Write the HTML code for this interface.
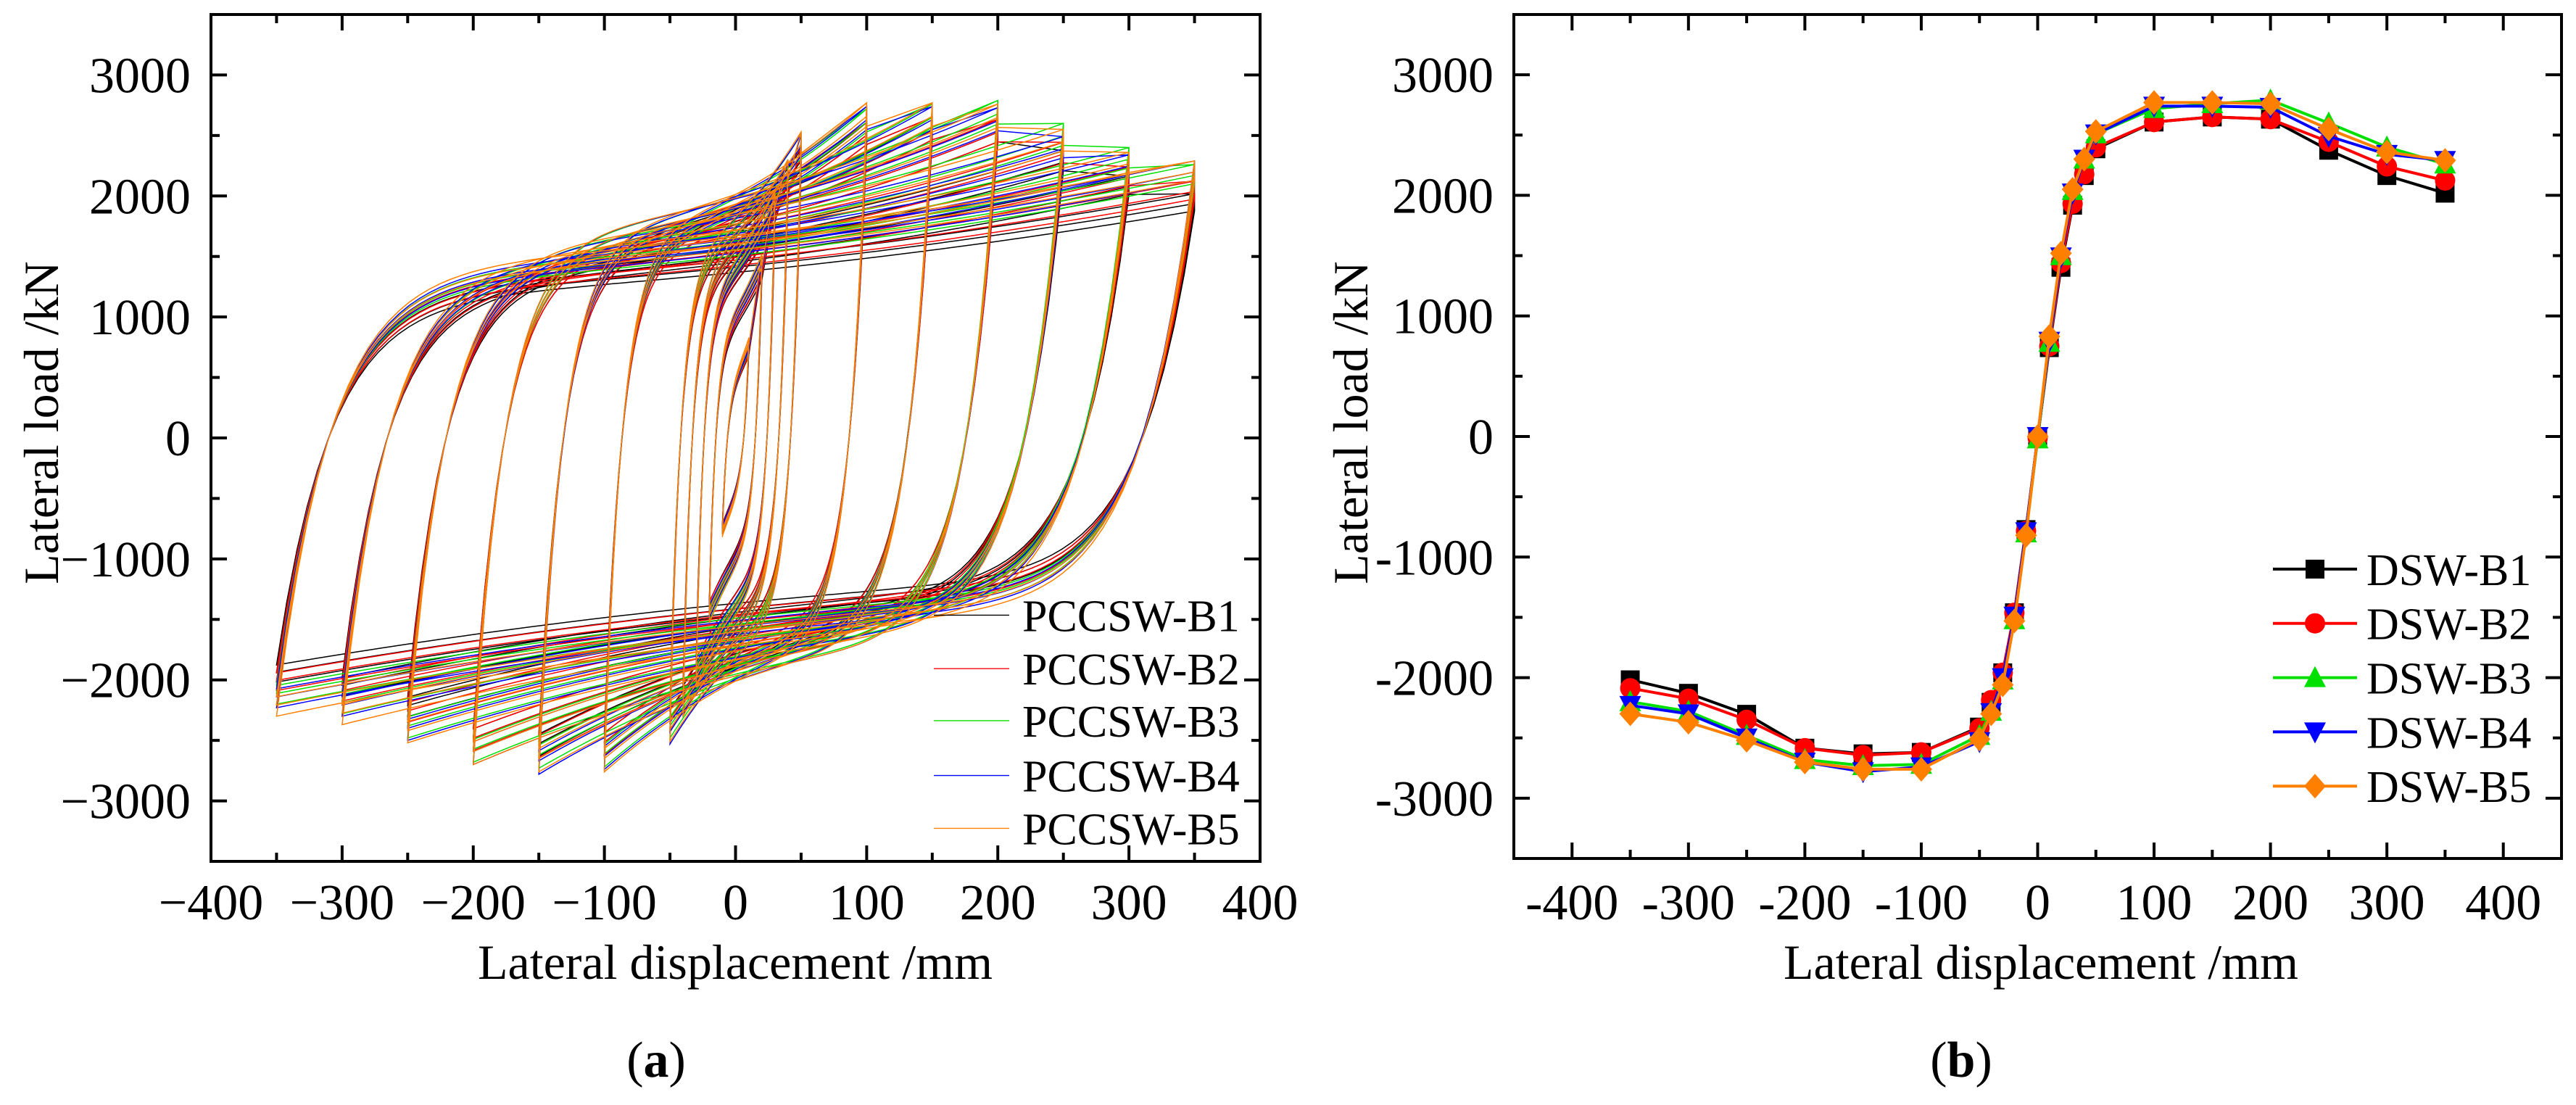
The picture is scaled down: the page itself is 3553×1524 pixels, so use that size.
<!DOCTYPE html>
<html><head><meta charset="utf-8">
<style>
html,body{margin:0;padding:0;background:#fff;}
svg{display:block;font-family:"Liberation Serif","DejaVu Serif",serif;}
</style></head>
<body>
<svg id="fig" width="3553" height="1524" viewBox="0 0 3553 1524" xmlns="http://www.w3.org/2000/svg">
<rect width="3553" height="1524" fill="#fff"/>
<g id="plotA"></g>
<g id="plotB"></g>
<text x="905" y="1485" font-size="70" text-anchor="middle">(<tspan font-weight="bold">a</tspan>)</text>
<text x="2705" y="1485" font-size="70" text-anchor="middle">(<tspan font-weight="bold">b</tspan>)</text>
</svg>
<script>
// ---------- data ----------
const dispPts = [-350,-300,-250,-200,-150,-100,-50,-40,-30,-20,-10,0,10,20,30,40,50,100,150,200,250,300,350];
const loadB1 = [-2018,-2130,-2304,-2585,-2632,-2620,-2410,-2205,-1960,-1462,-772,-10,737,1403,1918,2164,2386,2608,2650,2632,2374,2164,2018];
const loadB2 = [-2088,-2175,-2350,-2585,-2643,-2620,-2420,-2187,-1959,-1462,-784,-10,748,1439,1930,2175,2398,2608,2650,2632,2444,2240,2123];
const loadB3 = [-2200,-2280,-2480,-2680,-2730,-2720,-2480,-2280,-2020,-1520,-800,-20,780,1500,2040,2300,2510,2720,2760,2790,2600,2400,2260];
const loadB4 = [-2230,-2300,-2500,-2700,-2780,-2740,-2530,-2290,-2000,-1490,-790,0,790,1490,2020,2300,2510,2740,2740,2730,2490,2340,2290];
const loadB5 = [-2300,-2370,-2520,-2700,-2760,-2760,-2510,-2300,-2060,-1530,-820,0,830,1520,2050,2300,2530,2770,2770,2760,2550,2360,2290];
const seriesNames = ["DSW-B1","DSW-B2","DSW-B3","DSW-B4","DSW-B5"];
const hystNames = ["PCCSW-B1","PCCSW-B2","PCCSW-B3","PCCSW-B4","PCCSW-B5"];
const loopAmps = [10,20,30,40,50,100,150,200,250,300,350];
const plateauLoads = [1600,1750,1750,1720,1760];
const xTicksA = [-400,-300,-200,-100,0,100,200,300,400];
const yTicks = [-3000,-2000,-1000,0,1000,2000,3000];
const colors = ["#000000","#ff0000","#00e000","#0000ff","#ff8000"];
const allLoads = [loadB1,loadB2,loadB3,loadB4,loadB5];

const NS="http://www.w3.org/2000/svg";
function mk(tag, attrs, parent){const e=document.createElementNS(NS,tag);for(const k in attrs)e.setAttribute(k,attrs[k]);parent.appendChild(e);return e;}

function drawFrame(g, L,R,T,B, xmin,xmax, xTicks, xMinor, yMinor, minusChar, prefix){
  const xs=v=>L+(v-xmin)/(xmax-xmin)*(R-L);
  const ys=v=>T+(3500-v)/7000*(B-T);
  const frame=mk('rect',{x:L,y:T,width:R-L,height:B-T,fill:'none',stroke:'#000','stroke-width':4},g);
  
  
  const tg=mk('g',{stroke:'#000','stroke-width':4},g);
  
  
  xTicks.forEach(v=>{const x=xs(v);mk('line',{x1:x,y1:B,x2:x,y2:B-22},tg);mk('line',{x1:x,y1:T,x2:x,y2:T+22},tg);});
  xMinor.forEach(v=>{const x=xs(v);mk('line',{x1:x,y1:B,x2:x,y2:B-12},tg);mk('line',{x1:x,y1:T,x2:x,y2:T+12},tg);});
  yTicks.forEach(v=>{const y=ys(v);mk('line',{x1:L,y1:y,x2:L+22,y2:y},tg);mk('line',{x1:R,y1:y,x2:R-22,y2:y},tg);});
  yMinor.forEach(v=>{const y=ys(v);mk('line',{x1:L,y1:y,x2:L+12,y2:y},tg);mk('line',{x1:R,y1:y,x2:R-12,y2:y},tg);});
  xTicks.forEach(v=>{
    const t=mk('text',{x:xs(v),y:1268,'font-size':70,'text-anchor':'middle'},g);
    t.textContent=(v<0?minusChar:'')+Math.abs(v);
    
    
  });
  yTicks.forEach(v=>{
    const t=mk('text',{x:L-28,y:ys(v)+24,'font-size':70,'text-anchor':'end'},g);
    t.textContent=(v<0?minusChar:'')+Math.abs(v);
    
    
  });
  return {xs,ys};
}

// ---------- Panel A ----------
(function(){
  const g=document.getElementById('plotA');
  const L=291,R=1738,T=20,B=1188;
  const minorX=[-350,-250,-150,-50,50,150,250,350];
  const minorY=[-3500,-2500,-1500,-500,500,1500,2500,3500];
  const {xs,ys}=drawFrame(g,L,R,T,B,-400,400,xTicksA,minorX,minorY,'\u2212','a');
  const clip=mk('clipPath',{id:'clipA'},g);
  mk('rect',{x:L,y:T,width:R-L,height:B-T},clip);
  const cg=mk('g',{'clip-path':'url(#clipA)'},g);
  allLoads.forEach((loads,si)=>{
    const base=plateauLoads[si];
    let d='';
    loopAmps.forEach(A=>{
      const Pp=loads[dispPts.indexOf(A)];
      const Pn=loads[dispPts.indexOf(-A)];
      [1,0.96,0.93].forEach(f=>{
        const P=Pp*f, N=Pn*f;
        const bl=Math.min(base, 0.62*Math.min(P,-N));
        const w=0.11*A+3;
        const Gl=x=>-(bl+(-N-bl)*Math.pow((A-x)/(2*A),1.8));
        const Gu=x=>(bl+(P-bl)*Math.pow((x+A)/(2*A),1.8));
        const n=90;
        for(let i=0;i<=n;i++){
          const x=A-2*A*i/n;
          const F=Gl(x)+(P-Gl(A))*Math.exp(-(A-x)/w);
          d+=(i===0&&d===''?'M':'L')+xs(x).toFixed(1)+' '+ys(F).toFixed(1);
        }
        for(let i=0;i<=n;i++){
          const x=-A+2*A*i/n;
          const F=Gu(x)+(N-Gu(-A))*Math.exp(-(x+A)/w);
          d+='L'+xs(x).toFixed(1)+' '+ys(F).toFixed(1);
        }
      });
    });
    const p=mk('path',{d:d,fill:'none',stroke:colors[si],'stroke-width':1.5},cg);
    
    
  });
  const legY=[-1465,-1907,-2337,-2790,-3227];
  hystNames.forEach((nm,i)=>{
    const lg=mk('g',{},g);
    
    
    const y=ys(legY[i]);
    mk('line',{x1:1288,y1:y,x2:1392,y2:y,stroke:colors[i],'stroke-width':1.4},lg);
    const t=mk('text',{x:1410,y:y+22,'font-size':62},lg);
    t.textContent=nm;
  });
  const xt=mk('text',{x:1014,y:1350,'font-size':68,'text-anchor':'middle'},g);
  xt.textContent='Lateral displacement /mm';
  
  
  const yt=mk('text',{x:0,y:0,'font-size':68,'text-anchor':'middle',transform:'translate(80,583) rotate(-90)'},g);
  yt.textContent='Lateral load /kN';
  
  
})();

// ---------- Panel B ----------
(function(){
  const g=document.getElementById('plotB');
  const L=2088,R=3533,T=20,B=1184;
  const minorX=[-450,-350,-250,-150,-50,50,150,250,350,450];
  const minorY=[-2500,-1500,-500,500,1500,2500];
  const {xs,ys}=drawFrame(g,L,R,T,B,-450,450,xTicksA,minorX,minorY,'-','b');
  function marker(parent,type,cx,cy,col){
    const s=13;
    let e;
    if(type===0) e=mk('rect',{x:cx-s,y:cy-s,width:2*s,height:2*s,fill:col},parent);
    else if(type===1) e=mk('circle',{cx:cx,cy:cy,r:s+1,fill:col},parent);
    else if(type===2) e=mk('polygon',{points:`${cx},${cy-s-3} ${cx-s-2},${cy+s} ${cx+s+2},${cy+s}`,fill:col},parent);
    else if(type===3) e=mk('polygon',{points:`${cx},${cy+s+3} ${cx-s-2},${cy-s} ${cx+s+2},${cy-s}`,fill:col},parent);
    else e=mk('polygon',{points:`${cx},${cy-s-4} ${cx+s+2},${cy} ${cx},${cy+s+4} ${cx-s-2},${cy}`,fill:col},parent);
    return e;
  }
  allLoads.forEach((loads,si)=>{
    const sg=mk('g',{},g);
    
    
    const pts=dispPts.map((x,i)=>xs(x).toFixed(1)+','+ys(loads[i]).toFixed(1)).join(' ');
    mk('polyline',{points:pts,fill:'none',stroke:colors[si],'stroke-width':4,'stroke-linejoin':'round'},sg);
    dispPts.forEach((x,i)=>{
      const m=marker(sg,si,xs(x),ys(loads[i]),colors[si]);
      
      
    });
  });
  const legY=[-1100,-1550,-2000,-2450,-2900];
  seriesNames.forEach((nm,i)=>{
    const lg=mk('g',{},g);
    
    
    const y=ys(legY[i]);
    mk('line',{x1:3135,y1:y,x2:3251,y2:y,stroke:colors[i],'stroke-width':4},lg);
    marker(lg,i,3193,y,colors[i]);
    const t=mk('text',{x:3264,y:y+22,'font-size':62},lg);
    t.textContent=nm;
  });
  const xt=mk('text',{x:2815,y:1350,'font-size':68,'text-anchor':'middle'},g);
  xt.textContent='Lateral displacement /mm';
  
  
  const yt=mk('text',{x:0,y:0,'font-size':68,'text-anchor':'middle',transform:'translate(1886,583) rotate(-90)'},g);
  yt.textContent='Lateral load /kN';
  
  
})();
</script>
</body></html>
